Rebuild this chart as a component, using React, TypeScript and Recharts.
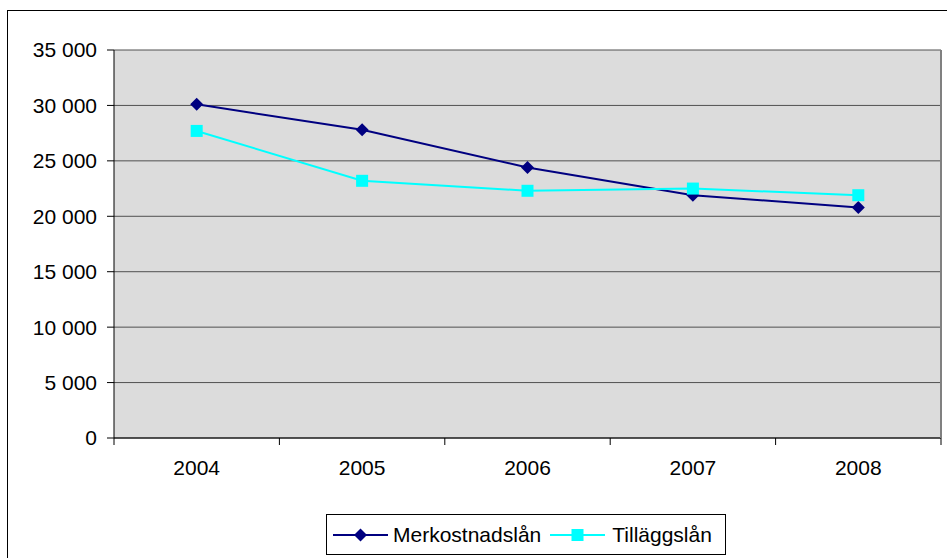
import { LineChart, Line, XAxis, YAxis, CartesianGrid } from 'recharts';

const years = [2004, 2005, 2006, 2007, 2008];
const merkostnadslan = [30100, 27800, 24400, 21900, 20800];
const tillaggslan = [27700, 23200, 22300, 22500, 21900];
const yTicks = [0, 5000, 10000, 15000, 20000, 25000, 30000, 35000];
const xTicks = [2003.5, 2004, 2004.5, 2005, 2005.5, 2006, 2006.5, 2007, 2007.5, 2008, 2008.5];

const NAVY = '#000080';
const CYAN = '#00ffff';
const FONT = '"Liberation Sans", Arial, sans-serif';

const data = years.map((year, i) => ({
  year,
  merk: merkostnadslan[i],
  till: tillaggslan[i],
}));

const fmt = (v: number) => String(v).replace(/\B(?=(\d{3})+(?!\d))/g, ' ');

function Diamond({ cx, cy, fill }: any) {
  if (cx == null || cy == null) return null;
  const r = 6.5;
  return (
    <polygon
      points={`${cx},${cy - r} ${cx + r},${cy} ${cx},${cy + r} ${cx - r},${cy}`}
      fill={fill}
    />
  );
}

function Square({ cx, cy, fill }: any) {
  if (cx == null || cy == null) return null;
  const s = 12;
  return <rect x={cx - s / 2} y={cy - s / 2} width={s} height={s} fill={fill} />;
}

// integer years get a label, half years get the tick mark between categories
function YearTick({ x, y, payload }: any) {
  const v = payload.value;
  if (Number.isInteger(v)) {
    return (
      <text x={x} y={y + 23} textAnchor="middle" dy="0.355em" fill="#000" fontSize={21} fontFamily={FONT}>
        {v}
      </text>
    );
  }
  return <line x1={x} y1={y - 7} x2={x} y2={y} stroke="#000" strokeWidth={1} />;
}

export default function App() {
  return (
    <div
      style={{
        position: 'fixed',
        left: 0,
        top: 0,
        width: 947,
        height: 558,
        overflow: 'hidden',
        background: '#fff',
        fontFamily: FONT,
      }}
    >
      <div
        style={{
          position: 'absolute',
          left: 7,
          top: 10,
          width: 1000,
          height: 600,
          border: '1px solid #000',
        }}
      />
      <div style={{ position: 'absolute', left: 0, top: 0 }}>
        <LineChart width={947} height={558} data={data} margin={{ top: 50, right: 0, bottom: 60, left: 0 }}>
          <CartesianGrid vertical={false} fill="#dcdcdc" stroke="#505050" yAxisId="left" />
          <XAxis
            dataKey="year"
            type="number"
            domain={[2003.5, 2008.5]}
            ticks={xTicks}
            interval={0}
            tickLine={false}
            tickSize={7}
            tickMargin={0}
            height={60}
            axisLine={{ stroke: '#000' }}
            tick={<YearTick />}
          />
          <YAxis
            yAxisId="left"
            domain={[0, 35000]}
            ticks={yTicks}
            width={114}
            tickSize={7}
            tickMargin={10}
            tickFormatter={fmt}
            axisLine={{ stroke: '#000' }}
            tickLine={{ stroke: '#000' }}
            tick={{ fill: '#000', fontSize: 21, fontFamily: FONT }}
          />
          <YAxis
            yAxisId="right"
            orientation="right"
            domain={[0, 35000]}
            width={6}
            tick={false}
            tickLine={false}
            axisLine={{ stroke: '#808080', strokeWidth: 2 }}
          />
          <Line
            yAxisId="left"
            dataKey="merk"
            stroke={NAVY}
            strokeWidth={2}
            dot={<Diamond fill={NAVY} />}
            isAnimationActive={false}
          />
          <Line
            yAxisId="left"
            dataKey="till"
            stroke={CYAN}
            strokeWidth={2}
            dot={<Square fill={CYAN} />}
            isAnimationActive={false}
          />
        </LineChart>
      </div>
      <div
        style={{
          position: 'absolute',
          left: 326,
          top: 514,
          width: 400,
          height: 41,
          boxSizing: 'border-box',
          border: '1px solid #000',
          display: 'flex',
          alignItems: 'center',
          fontSize: 21,
          color: '#000',
        }}
      >
        <svg width={60} height={20} style={{ marginLeft: 6 }}>
          <line x1={0} y1={10} x2={55} y2={10} stroke={NAVY} strokeWidth={2} />
          <Diamond cx={27.5} cy={10} fill={NAVY} />
        </svg>
        <span>Merkostnadslån</span>
        <svg width={62} height={20} style={{ marginLeft: 9 }}>
          <line x1={0} y1={10} x2={55} y2={10} stroke={CYAN} strokeWidth={2} />
          <Square cx={27.5} cy={10} fill={CYAN} />
        </svg>
        <span>Tilläggslån</span>
      </div>
    </div>
  );
}
